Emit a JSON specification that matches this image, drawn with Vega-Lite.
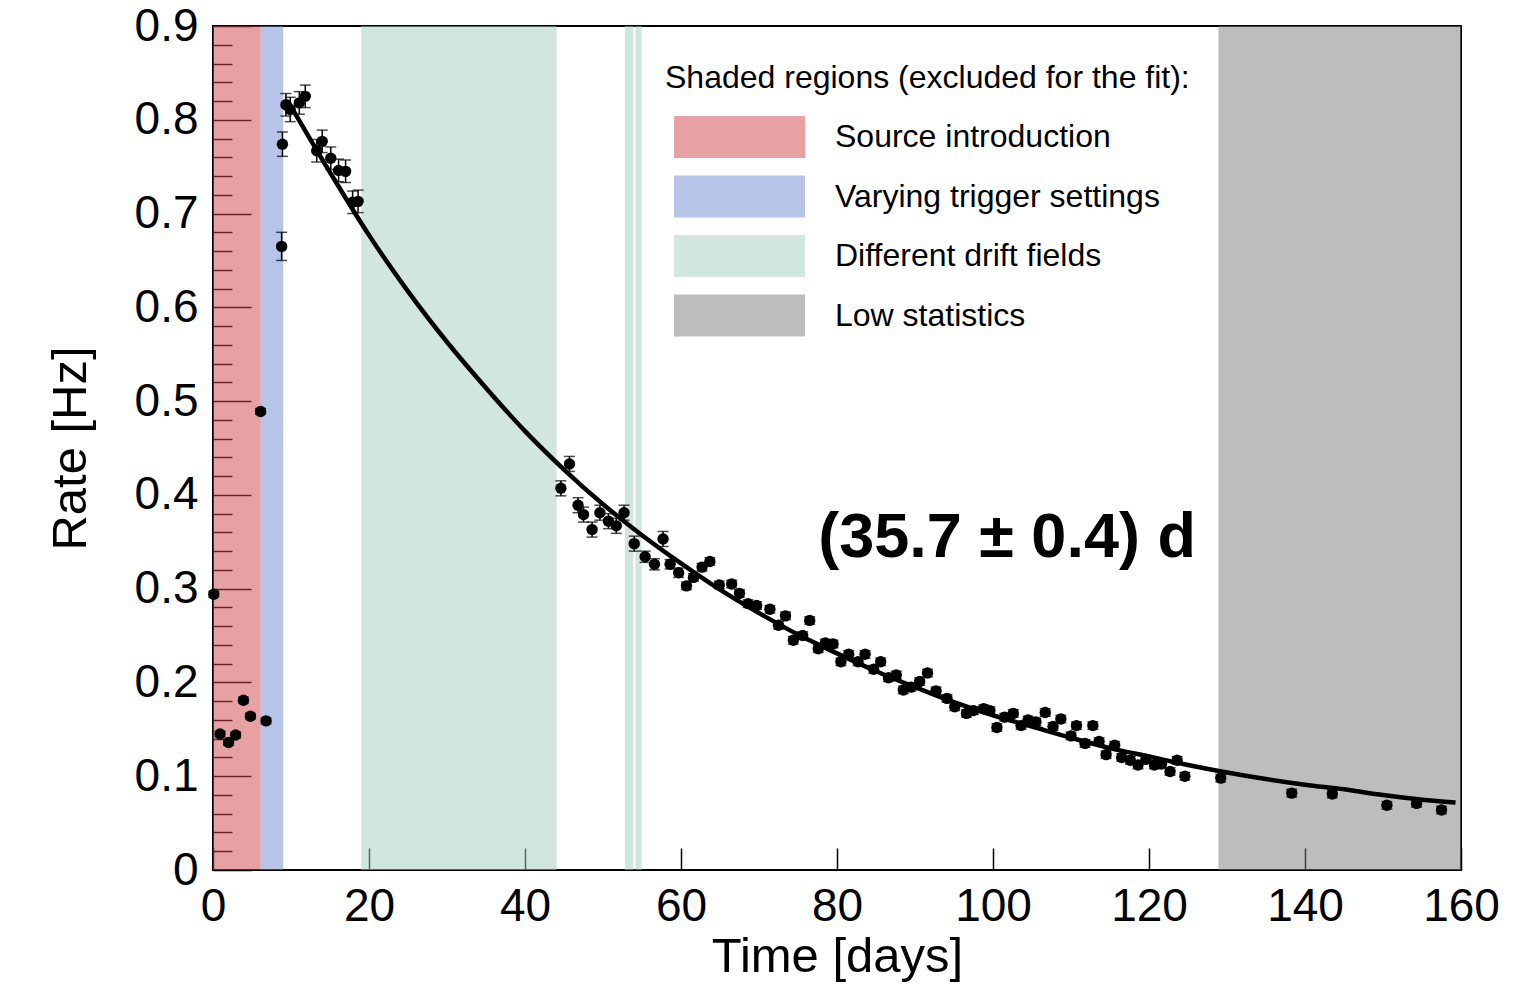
{
  "$schema": "https://vega.github.io/schema/vega-lite/v6.json",
  "width": 1248,
  "height": 844,
  "autosize": {"type": "none"},
  "padding": {"left": 213, "top": 26, "right": 57, "bottom": 115},
  "background": "white",
  "config": {
    "view": {"stroke": "black", "strokeWidth": 2},
    "font": "Liberation Sans",
    "axis": {"labelFont": "Liberation Sans", "titleFont": "Liberation Sans", "labelColor": "black", "titleColor": "black", "tickColor": "black", "domain": false, "grid": false, "titleFontWeight": "normal", "labelFlush": false, "labelOverlap": false}
  },
  "datasets": {
    "regions": [
      {"label": "Source introduction", "start": 0, "end": 6.1},
      {"label": "Varying trigger settings", "start": 6.1, "end": 9.0},
      {"label": "Different drift fields", "start": 19.0, "end": 44.05},
      {"label": "Different drift fields", "start": 52.8, "end": 53.9},
      {"label": "Different drift fields", "start": 54.15, "end": 54.95},
      {"label": "Low statistics", "start": 128.9, "end": 160}
    ],
    "fit": [
      {"day": 9.6, "rate": 0.82}, {"day": 15, "rate": 0.744}, {"day": 20, "rate": 0.677}, {"day": 25, "rate": 0.617},
      {"day": 30, "rate": 0.563}, {"day": 35, "rate": 0.514}, {"day": 40, "rate": 0.468}, {"day": 45, "rate": 0.427},
      {"day": 50, "rate": 0.39}, {"day": 55, "rate": 0.357}, {"day": 60, "rate": 0.327}, {"day": 65, "rate": 0.299},
      {"day": 70, "rate": 0.274}, {"day": 75, "rate": 0.251}, {"day": 80, "rate": 0.231}, {"day": 85, "rate": 0.212},
      {"day": 90, "rate": 0.195}, {"day": 95, "rate": 0.179}, {"day": 100, "rate": 0.165}, {"day": 105, "rate": 0.153},
      {"day": 110, "rate": 0.141}, {"day": 115, "rate": 0.13}, {"day": 120, "rate": 0.121}, {"day": 125, "rate": 0.112},
      {"day": 130, "rate": 0.104}, {"day": 135, "rate": 0.097}, {"day": 140, "rate": 0.091}, {"day": 145, "rate": 0.086},
      {"day": 150, "rate": 0.08}, {"day": 155, "rate": 0.075}, {"day": 159.3, "rate": 0.072}
    ],
    "points": [
      {"day": 0.1, "rate": 0.294, "err": 0.003}, {"day": 0.9, "rate": 0.145, "err": 0.003}, {"day": 2.0, "rate": 0.136, "err": 0.003},
      {"day": 2.9, "rate": 0.144, "err": 0.003}, {"day": 3.9, "rate": 0.181, "err": 0.003}, {"day": 4.8, "rate": 0.164, "err": 0.003},
      {"day": 6.1, "rate": 0.489, "err": 0.003}, {"day": 6.8, "rate": 0.159, "err": 0.003},
      {"day": 8.9, "rate": 0.774, "err": 0.013}, {"day": 8.8, "rate": 0.665, "err": 0.015},
      {"day": 9.35, "rate": 0.816, "err": 0.012}, {"day": 9.9, "rate": 0.811, "err": 0.013}, {"day": 11.06, "rate": 0.818, "err": 0.012},
      {"day": 11.83, "rate": 0.825, "err": 0.012}, {"day": 13.3, "rate": 0.767, "err": 0.012}, {"day": 14.0, "rate": 0.777, "err": 0.012},
      {"day": 15.1, "rate": 0.759, "err": 0.012}, {"day": 16.1, "rate": 0.746, "err": 0.012}, {"day": 17.0, "rate": 0.745, "err": 0.012},
      {"day": 17.9, "rate": 0.712, "err": 0.012}, {"day": 18.6, "rate": 0.713, "err": 0.012},
      {"day": 44.6, "rate": 0.407, "err": 0.008}, {"day": 45.7, "rate": 0.433, "err": 0.008}, {"day": 46.8, "rate": 0.389, "err": 0.008},
      {"day": 47.5, "rate": 0.379, "err": 0.008}, {"day": 48.6, "rate": 0.363, "err": 0.008}, {"day": 49.6, "rate": 0.381, "err": 0.008},
      {"day": 50.7, "rate": 0.372, "err": 0.008}, {"day": 51.7, "rate": 0.367, "err": 0.008}, {"day": 52.7, "rate": 0.381, "err": 0.008},
      {"day": 54.0, "rate": 0.348, "err": 0.008}, {"day": 55.4, "rate": 0.334, "err": 0.006}, {"day": 56.6, "rate": 0.326, "err": 0.006},
      {"day": 57.7, "rate": 0.353, "err": 0.008}, {"day": 58.6, "rate": 0.326, "err": 0.005}, {"day": 59.7, "rate": 0.317, "err": 0.005},
      {"day": 60.7, "rate": 0.303, "err": 0.004}, {"day": 61.6, "rate": 0.312, "err": 0.004}, {"day": 62.7, "rate": 0.323, "err": 0.004},
      {"day": 63.7, "rate": 0.329, "err": 0.004}, {"day": 64.9, "rate": 0.304, "err": 0.004}, {"day": 66.5, "rate": 0.305, "err": 0.004},
      {"day": 67.5, "rate": 0.295, "err": 0.004}, {"day": 68.6, "rate": 0.284, "err": 0.004}, {"day": 69.7, "rate": 0.282, "err": 0.004},
      {"day": 71.4, "rate": 0.278, "err": 0.004}, {"day": 72.5, "rate": 0.261, "err": 0.004}, {"day": 73.4, "rate": 0.271, "err": 0.004},
      {"day": 74.4, "rate": 0.245, "err": 0.004}, {"day": 75.6, "rate": 0.25, "err": 0.004}, {"day": 76.5, "rate": 0.266, "err": 0.004},
      {"day": 77.6, "rate": 0.236, "err": 0.004}, {"day": 78.5, "rate": 0.242, "err": 0.004}, {"day": 79.5, "rate": 0.241, "err": 0.004},
      {"day": 80.5, "rate": 0.222, "err": 0.004}, {"day": 81.5, "rate": 0.23, "err": 0.004}, {"day": 82.7, "rate": 0.222, "err": 0.004},
      {"day": 83.6, "rate": 0.23, "err": 0.004}, {"day": 84.7, "rate": 0.214, "err": 0.004}, {"day": 85.6, "rate": 0.222, "err": 0.004},
      {"day": 86.6, "rate": 0.205, "err": 0.004}, {"day": 87.6, "rate": 0.208, "err": 0.004}, {"day": 88.5, "rate": 0.192, "err": 0.004},
      {"day": 89.5, "rate": 0.195, "err": 0.004}, {"day": 90.6, "rate": 0.201, "err": 0.004}, {"day": 91.6, "rate": 0.21, "err": 0.004},
      {"day": 92.7, "rate": 0.191, "err": 0.004}, {"day": 94.1, "rate": 0.183, "err": 0.004}, {"day": 95.1, "rate": 0.174, "err": 0.004},
      {"day": 96.6, "rate": 0.167, "err": 0.004}, {"day": 97.5, "rate": 0.17, "err": 0.004}, {"day": 98.8, "rate": 0.172, "err": 0.004},
      {"day": 99.6, "rate": 0.17, "err": 0.004}, {"day": 100.5, "rate": 0.152, "err": 0.004}, {"day": 101.5, "rate": 0.163, "err": 0.004},
      {"day": 102.6, "rate": 0.167, "err": 0.004}, {"day": 103.6, "rate": 0.154, "err": 0.004}, {"day": 104.5, "rate": 0.16, "err": 0.004},
      {"day": 105.5, "rate": 0.158, "err": 0.004}, {"day": 106.7, "rate": 0.168, "err": 0.004}, {"day": 107.7, "rate": 0.153, "err": 0.004},
      {"day": 108.7, "rate": 0.161, "err": 0.004}, {"day": 110.0, "rate": 0.143, "err": 0.004}, {"day": 110.7, "rate": 0.154, "err": 0.004},
      {"day": 111.8, "rate": 0.135, "err": 0.004}, {"day": 112.8, "rate": 0.154, "err": 0.004}, {"day": 113.6, "rate": 0.137, "err": 0.004},
      {"day": 114.5, "rate": 0.123, "err": 0.004}, {"day": 115.6, "rate": 0.133, "err": 0.004}, {"day": 116.5, "rate": 0.12, "err": 0.004},
      {"day": 117.6, "rate": 0.117, "err": 0.004}, {"day": 118.6, "rate": 0.112, "err": 0.004}, {"day": 119.6, "rate": 0.118, "err": 0.004},
      {"day": 120.7, "rate": 0.112, "err": 0.004}, {"day": 121.6, "rate": 0.113, "err": 0.004}, {"day": 122.7, "rate": 0.105, "err": 0.004},
      {"day": 123.6, "rate": 0.117, "err": 0.004}, {"day": 124.6, "rate": 0.1, "err": 0.004}, {"day": 129.2, "rate": 0.098, "err": 0.004},
      {"day": 138.3, "rate": 0.082, "err": 0.004}, {"day": 143.5, "rate": 0.081, "err": 0.004}, {"day": 150.5, "rate": 0.069, "err": 0.004},
      {"day": 154.3, "rate": 0.071, "err": 0.004}, {"day": 157.5, "rate": 0.064, "err": 0.004}
    ],
    "note": [{"day": 101.8, "rate": 0.354, "text": "(35.7 ± 0.4) d"}]
  },
  "layer": [
    {
      "data": {"name": "regions"},
      "mark": {"type": "rect", "opacity": 0.5},
      "encoding": {
        "x": {"field": "start", "type": "quantitative", "scale": {"domain": [0, 160], "nice": false},
              "axis": {"values": [0, 20, 40, 60, 80, 100, 120, 140, 160], "format": "d", "tickSize": -22, "tickWidth": 1.5,
                       "labelFontSize": 46, "labelPadding": 36, "title": "Time [days]", "titleFontSize": 49, "titlePadding": 3}},
        "x2": {"field": "end"},
        "color": {"field": "label", "type": "nominal",
                  "scale": {"domain": ["Source introduction", "Varying trigger settings", "Different drift fields", "Low statistics"],
                            "range": ["#d04448", "#7088d0", "#a4cec0", "#7c7c7c"]},
                  "legend": {"orient": "none", "legendX": 452, "legendY": 37, "title": "Shaded regions (excluded for the fit):",
                             "titleFontSize": 32, "titleFontWeight": "normal", "titleColor": "black", "titlePadding": 21, "titleLimit": 0,
                             "labelFontSize": 32, "labelColor": "black", "labelOffset": 128, "labelLimit": 0,
                             "symbolType": "M-0.57,-1H5.667V1H-0.57Z", "symbolSize": 1764, "symbolOpacity": 0.5,
                             "symbolStrokeWidth": 0, "rowPadding": 17.5, "padding": 0}}
      }
    },
    {
      "data": {"name": "fit"},
      "mark": {"type": "line", "color": "black", "strokeWidth": 4.5, "interpolate": "monotone"},
      "encoding": {
        "x": {"field": "day", "type": "quantitative"},
        "y": {"field": "rate", "type": "quantitative", "scale": {"domain": [0, 0.9], "nice": false},
              "axis": {"orient": "left", "values": [0.02,0.04,0.06,0.08,0.12,0.14,0.16,0.18,0.22,0.24,0.26,0.28,0.32,0.34,0.36,0.38,0.42,0.44,0.46,0.48,0.52,0.54,0.56,0.58,0.62,0.64,0.66,0.68,0.72,0.74,0.76,0.78,0.82,0.84,0.86,0.88],
                       "labels": false, "tickSize": -19, "tickWidth": 1.5, "title": null}}
      }
    },
    {
      "data": {"name": "points"},
      "mark": {"type": "errorbar", "ticks": {"size": 11, "thickness": 1.5, "color": "black"}, "thickness": 1.5, "color": "black"},
      "encoding": {
        "x": {"field": "day", "type": "quantitative"},
        "y": {"field": "rate", "type": "quantitative", "axis": null},
        "yError": {"field": "err"}
      }
    },
    {
      "data": {"name": "points"},
      "mark": {"type": "point", "filled": true, "shape": "circle", "color": "black", "size": 130, "opacity": 1},
      "encoding": {
        "x": {"field": "day", "type": "quantitative"},
        "y": {"field": "rate", "type": "quantitative",
              "axis": {"orient": "left", "values": [0, 0.1, 0.2, 0.3, 0.4, 0.5, 0.6, 0.7, 0.8, 0.9], "format": "~g",
                       "tickSize": -38, "tickWidth": 1.5, "labelFontSize": 46, "labelPadding": 53,
                       "title": "Rate [Hz]", "titleFontSize": 49, "titlePadding": 39}}
      }
    },
    {
      "data": {"name": "note"},
      "mark": {"type": "text", "font": "Liberation Sans", "fontWeight": "bold", "fontSize": 63, "color": "black", "align": "center", "baseline": "middle"},
      "encoding": {
        "x": {"field": "day", "type": "quantitative"},
        "y": {"field": "rate", "type": "quantitative", "axis": null},
        "text": {"field": "text"}
      }
    }
  ],
  "resolve": {"axis": {"y": "independent"}}
}
